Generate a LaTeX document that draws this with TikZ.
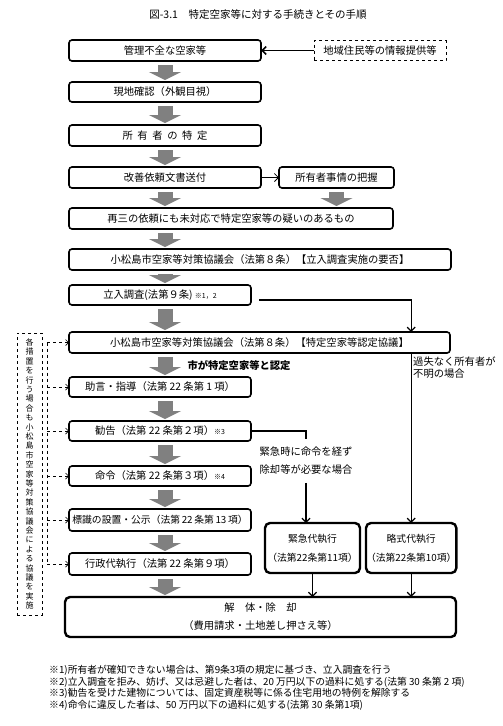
\documentclass[tikz,border=0pt]{standalone}
\usepackage{fontspec}
\setmainfont{Noto Sans CJK JP}
\usetikzlibrary{positioning,arrows.meta,calc}

\newcommand{\smallnote}[1]{{\fontsize{7}{8}\selectfont #1}}

\begin{document}
\begin{tikzpicture}[
    x=1pt, y=-1pt,
    font=\fontsize{10.3}{12}\selectfont,
    box/.style={
        draw,
        rounded corners=3pt,
        line width=1.6pt,
        outer sep=0pt,
        minimum width=182pt,
        minimum height=21pt,
        inner sep=1pt,
        align=center
    },
    bigbox/.style={box, line width=2.4pt, rounded corners=5pt},
    dashbox/.style={draw, dashed, line width=0.8pt, outer sep=0pt, inner sep=2pt, align=center},
    flow/.style={line width=15pt, gray, -{Triangle[length=8pt,width=32pt]},
        shorten <=4pt, shorten >=2pt},
    arrow/.style={-{Straight Barb[length=4pt,width=8pt]}, line width=1.2pt},
    dasharrow/.style={-{Straight Barb[length=3pt,width=6pt]}, dashed, line width=0.7pt},
    note/.style={font=\fontsize{9.8}{11.7}\selectfont, align=left, inner sep=0pt}
]
\useasboundingbox (0,0) rectangle (503,726);

% ============================================================
% 表題
% ============================================================
\node[font=\fontsize{10.5}{12}\selectfont] (title) at (258,15) {図-3.1\quad 特定空家等に対する手続きとその手順};

% ============================================================
% 主な流れ
% ============================================================
\node[box, minimum width=192pt] (kanri) at (165,50.5) {管理不全な空家等};
\node[box, minimum width=192pt, minimum height=20pt, below=21pt of kanri] (genchi) {現地確認（外観目視）};
\node[box, minimum width=192pt, below=23pt of genchi] (shoyu) {所\ \ 有\ \ 者\ \ の\ \ 特\ \ 定};
\node[box, minimum width=192pt, below=21pt of shoyu] (kaizen) {改善依頼文書送付};
\node[box, minimum width=115pt, right=18pt of kaizen] (jijo) {所有者事情の把握};
\node[box, minimum width=324pt, below=20pt of kaizen.south west, anchor=north west] (saisan)
    {再三の依頼にも未対応で特定空家等の疑いのあるもの};
\node[box, minimum width=382pt, below=20pt of saisan.south west, anchor=north west] (kyogi1)
    {小松島市空家等対策協議会（法第８条）【立入調査実施の要否】};
\node[box, below=15pt of kyogi1.south west, anchor=north west, minimum height=20pt] (tachi)
    {立入調査(法第９条) \smallnote{※1，2}};
\node[box, minimum width=381pt, below=27pt of tachi.south west, anchor=north west] (kyogi2)
    {小松島市空家等対策協議会（法第８条）【特定空家等認定協議】};
\node[box, minimum height=20pt, below=24pt of kyogi2.south west, anchor=north west] (jogen)
    {助言・指導（法第 22 条第 1 項）};
\node[box, minimum height=20pt, below=24pt of jogen] (kankoku) {勧告（法第 22 条第２項）\smallnote{※3}};
\node[box, minimum height=20pt, below=25pt of kankoku] (meirei) {命令（法第 22 条第３項）\smallnote{※4}};
\node[box, minimum height=22pt, inner xsep=0pt, font=\fontsize{9.8}{12}\selectfont, below=23pt of meirei] (hyoshiki)
    {標識の設置・公示（法第\,22\,条第\,13\,項）};
\node[box, minimum height=22pt, below=22pt of hyoshiki] (gyosei) {行政代執行（法第 22 条第９項）};
\node[bigbox, minimum width=391pt, minimum height=40pt, font=\fontsize{10.3}{18}\selectfont,
      below=22pt of gyosei.south west, anchor=north west, xshift=-4pt] (kaitai)
    {解\quad 体・除\quad 却\\（費用請求・土地差し押さえ等）};

\node[dashbox, minimum width=132pt, minimum height=20pt, right=53pt of kanri] (info) {地域住民等の情報提供等};

\node[font=\bfseries\fontsize{10.3}{12}\selectfont] (nintei) at (239,366) {市が特定空家等と認定};

% ============================================================
% 代執行
% ============================================================
\node[bigbox, minimum width=95pt, minimum height=50pt, font=\fontsize{9.8}{19}\selectfont] (kinkyu)
    at (312.5,548) {緊急代執行\\（法第22条第11項）};
\node[bigbox, minimum width=84pt, minimum height=50pt, inner xsep=0pt, font=\fontsize{9.8}{19}\selectfont,
      right=6pt of kinkyu] (ryaku) {略式代執行\\（法第22条第10項）};

\node[align=left, inner xsep=0pt, inner ysep=8pt, font=\fontsize{10.3}{18}\selectfont] (emerg)
    at (306,461) {緊急時に命令を経ず\\除却等が必要な場合};
\node[align=left, anchor=north west, inner sep=0pt, font=\fontsize{10.3}{12}\selectfont] (kashitsu)
    at (413,357) {過失なく所有者が\\不明の場合};

% ============================================================
% 灰色の矢印
% ============================================================
\draw[flow] (kanri.south) -- (genchi.north);
\draw[flow] (genchi.south) -- (shoyu.north);
\draw[flow] (shoyu.south) -- (kaizen.north);
\draw[flow] (kaizen.south) -- (saisan.north -| kanri);
\draw[flow] (jijo.south) -- (saisan.north -| jijo);
\draw[flow] (saisan.south -| kanri) -- (kyogi1.north -| kanri);
\draw[flow] (kyogi1.south -| kanri) -- (tachi.north -| kanri);
\draw[flow] (tachi.south -| kanri) -- (kyogi2.north -| kanri);
\draw[flow] (kyogi2.south -| kanri) -- (jogen.north -| kanri);
\draw[flow] (jogen.south -| kanri) -- (kankoku.north -| kanri);
\draw[flow] (kankoku.south -| kanri) -- (meirei.north -| kanri);
\draw[flow] (meirei.south -| kanri) -- (hyoshiki.north -| kanri);
\draw[flow] (hyoshiki.south -| kanri) -- (gyosei.north -| kanri);
\draw[flow] (gyosei.south -| kanri) -- (kaitai.north -| kanri);

% ============================================================
% 細い矢印
% ============================================================
\draw[arrow, line width=1.6pt] (info.west) -- (kanri.east);
\draw[arrow, line width=0.8pt] (kaizen) -- (jijo);

\coordinate (tachiout) at ($(tachi.east)+(8,5)$);
\draw[arrow] (tachiout) -| (kyogi2.north -| ryaku);
\draw[arrow] (kyogi2.south -| ryaku) -- (ryaku.north);

\draw[line width=1.2pt] (kankoku.east) -| (emerg.north);
\draw[arrow] (emerg.south) -- (kinkyu.north -| emerg.south);

\draw[arrow] (kinkyu.south) -- (kaitai.north -| kinkyu);
\draw[arrow] (ryaku.south) -- (kaitai.north -| ryaku);

% ============================================================
% 協議会の枠
% ============================================================
\node[dashbox, minimum width=25pt, minimum height=282pt, inner sep=0pt,
      font=\fontsize{8}{9.4}\selectfont] (kyogi3) at (29.5,474)
    {各\\措\\置\\を\\行\\う\\場\\合\\も\\小\\松\\島\\市\\空\\家\\等\\対\\策\\協\\議\\会\\に\\よ\\る\\協\\議\\を\\実\\施};

\coordinate (spine) at (47,0);
\draw[dashed, line width=0.7pt] (kyogi2.west -| spine) -- (gyosei.west -| spine);
\draw[dasharrow] (kyogi2.west -| spine) -- (kyogi2.west);
\draw[dasharrow] (jogen.west -| spine) -- (jogen.west);
\draw[dasharrow] (kankoku.west -| spine) -- (kankoku.west);
\draw[dasharrow] (meirei.west -| spine) -- (meirei.west);
\draw[dasharrow] (hyoshiki.west -| spine) -- (hyoshiki.west);
\draw[dasharrow] (gyosei.west -| spine) -- (gyosei.west);

% ============================================================
% 注記
% ============================================================
\node[note, anchor=north west] (notes) at (49,665) {%
※1)所有者が確知できない場合は、第9条3項の規定に基づき、立入調査を行う\\
※2)立入調査を拒み、妨げ、又は忌避した者は、20 万円以下の過料に処する(法第 30 条第 2 項)\\
※3)勧告を受けた建物については、固定資産税等に係る住宅用地の特例を解除する\\
※4)命令に違反した者は、50 万円以下の過料に処する(法第 30 条第1項)};

\end{tikzpicture}
\end{document}
